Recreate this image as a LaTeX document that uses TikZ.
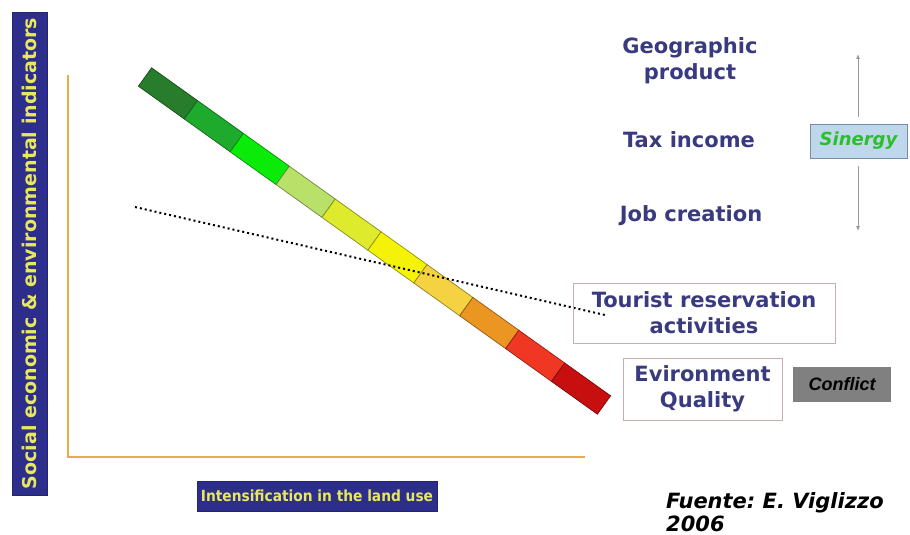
\documentclass[tikz,border=0pt]{standalone}
\usepackage{fontspec}
\setmainfont{DejaVu Sans}
\newfontfamily\condfont{DejaVu Sans Condensed}
\newfontfamily\arialfont{Liberation Sans}
\usetikzlibrary{arrows.meta}
\frenchspacing
\definecolor{navy}{RGB}{45,45,140}
\definecolor{labyel}{RGB}{232,232,95}
\definecolor{axisor}{RGB}{232,172,70}
\definecolor{txtblue}{RGB}{58,58,128}
\definecolor{boxedge}{RGB}{200,175,175}
\definecolor{synfill}{RGB}{190,215,235}
\definecolor{synedge}{RGB}{120,140,170}
\definecolor{syntext}{RGB}{45,190,45}
\definecolor{cA}{RGB}{40,125,45}
\definecolor{cB}{RGB}{30,170,45}
\definecolor{cC}{RGB}{10,235,10}
\definecolor{cD}{RGB}{185,225,105}
\definecolor{cE}{RGB}{222,235,45}
\definecolor{cF}{RGB}{245,242,10}
\definecolor{cG}{RGB}{245,210,65}
\definecolor{cH}{RGB}{235,150,35}
\definecolor{cI}{RGB}{240,55,35}
\definecolor{cJ}{RGB}{200,15,15}
\tikzset{
  bluetext/.style={font=\fontsize{21}{26}\selectfont\bfseries, text=txtblue, align=center, inner sep=0pt},
  labelbox/.style={fill=navy, draw=navy!80!black, text=labyel, inner sep=0pt},
  framebox/.style={draw=boxedge, line width=0.8pt},
  axisline/.style={draw=axisor, line width=2pt},
  sidearrow/.style={draw=gray!80, line width=0.8pt, -{Latex[length=5pt,width=4pt]}},
}
\begin{document}
\begin{tikzpicture}[x=1pt,y=-1pt]
\useasboundingbox[fill=white] (0,0) rectangle (910,535);

% axes
\coordinate (top) at (68,75);
\coordinate (origin) at (68,457);
\coordinate (right) at (585,457);
\draw[axisline] (top) -- (origin) -- (right);

% axis labels
\node[labelbox, rotate=90, minimum width=483, minimum height=35,
      font=\fontsize{19}{22}\selectfont\bfseries] (ylab) at (29.5,253.5)
  {Social economic \& environmental indicators};
\node[labelbox, minimum width=240, minimum height=30,
      font=\condfont\fontsize{15.3}{18}\selectfont\bfseries] (xlab) at (317,496)
  {Intensification in the land use};

% colour bar
\foreach \c [count=\i from 0] in {cA,cB,cC,cD,cE,cF,cG,cH,cI,cJ}{
  \pgfmathsetmacro{\xa}{145+45.9*\i}
  \pgfmathsetmacro{\ya}{77+32.8*\i}
  \pgfmathsetmacro{\xb}{145+45.9*(\i+1)}
  \pgfmathsetmacro{\yb}{77+32.8*(\i+1)}
  \filldraw[fill=\c, draw=\c!60!black, line width=0.7pt]
    (\xa-6.6,\ya+9.2) -- (\xa+6.6,\ya-9.2) -- (\xb+6.6,\yb-9.2) -- (\xb-6.6,\yb+9.2) -- cycle;
}

% dotted line
\coordinate (dotA) at (135,207);
\coordinate (dotB) at (605,315);
\draw[line width=2pt, dash pattern=on 2pt off 3pt] (dotA) -- (dotB);

% right texts
\node[bluetext] (geo) at (690,61) {Geographic\\product};
\node[bluetext] (tax) at (689,140) {Tax income};
\node[bluetext] (job) at (691,216) {Job creation};

\node[draw=synedge, fill=synfill, line width=0.8pt, minimum width=97, minimum height=34, inner sep=0pt,
      font=\fontsize{18}{20}\selectfont\bfseries\itshape, text=syntext] (syn) at (858.5,141) {Sinergy};
\coordinate (upstart) at (858,117);
\coordinate (upend) at (858,54);
\coordinate (downstart) at (858,166);
\coordinate (downend) at (858,231);
\draw[sidearrow] (upstart) -- (upend);
\draw[sidearrow] (downstart) -- (downend);

\node[framebox, bluetext, minimum width=262, minimum height=60] (tour) at (704,313)
  {Tourist reservation\\activities};
\node[framebox, bluetext, minimum width=159, minimum height=62] (env) at (702.5,389)
  {Evironment\\Quality};
\node[fill=gray, minimum width=98, minimum height=35, inner sep=0pt,
      font=\arialfont\fontsize{18}{20}\selectfont\bfseries\itshape] (conf) at (842,384.5) {Conflict};

\node[anchor=base west, align=left, inner sep=0pt,
      font=\fontsize{21}{23}\selectfont\bfseries\itshape] (src) at (666,531)
  {Fuente: E. Viglizzo\\2006};
\end{tikzpicture}
\end{document}
